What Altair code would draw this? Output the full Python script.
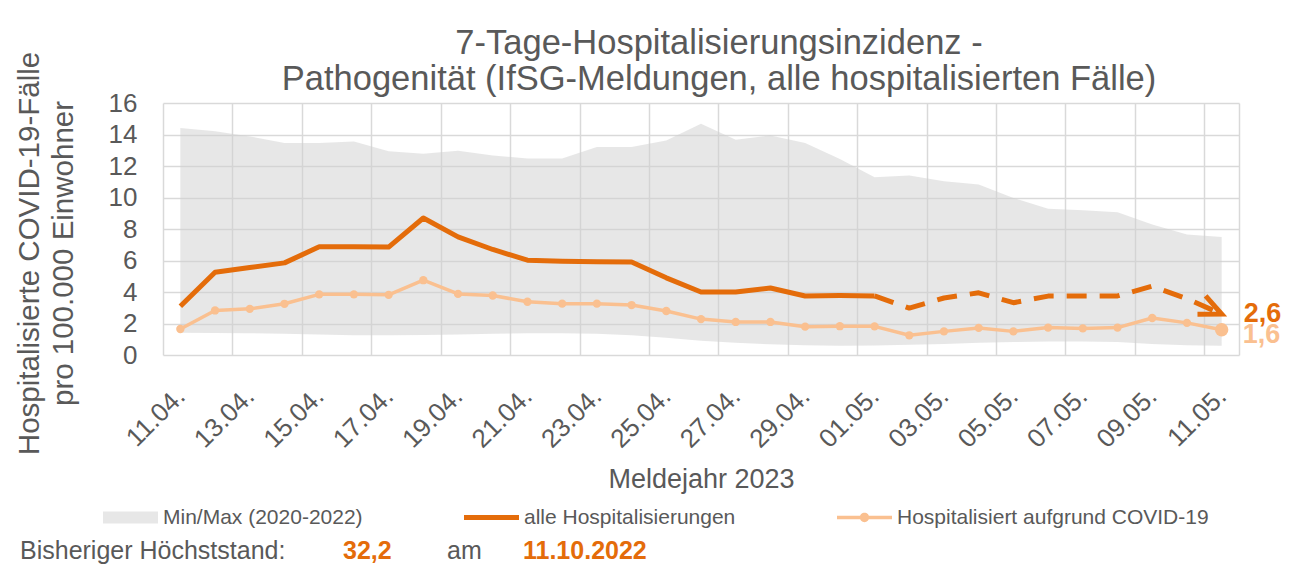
import json
import altair as alt
import pandas as pd

# ---------------- data ----------------
dates = ["11.04.", "12.04.", "13.04.", "14.04.", "15.04.", "16.04.", "17.04.", "18.04.", "19.04.", "20.04.",
         "21.04.", "22.04.", "23.04.", "24.04.", "25.04.", "26.04.", "27.04.", "28.04.", "29.04.", "30.04.",
         "01.05.", "02.05.", "03.05.", "04.05.", "05.05.", "06.05.", "07.05.", "08.05.", "09.05.", "10.05.",
         "11.05."]
band_min = [1.42, 1.40, 1.38, 1.35, 1.30, 1.25, 1.25, 1.27, 1.30, 1.35, 1.38, 1.38, 1.35, 1.25, 1.10, 0.90,
            0.78, 0.68, 0.62, 0.58, 0.60, 0.65, 0.70, 0.78, 0.82, 0.86, 0.86, 0.82, 0.70, 0.62, 0.58]
band_max = [14.41, 14.20, 13.88, 13.46, 13.46, 13.56, 12.93, 12.78, 12.97, 12.67, 12.47, 12.47, 13.20, 13.20,
            13.62, 14.68, 13.67, 13.94, 13.46, 12.45, 11.28, 11.39, 11.03, 10.82, 9.97, 9.28, 9.19, 9.06,
            8.28, 7.65, 7.50]
alle = [3.10, 5.25, 5.55, 5.85, 6.87, 6.87, 6.85, 8.70, 7.50, 6.70, 6.02, 5.95, 5.92, 5.90, 4.90, 4.00,
        4.00, 4.25, 3.75, 3.77, 3.75, 2.98, 3.62, 3.95, 3.32, 3.74, 3.74, 3.75, 4.37, 3.57, 2.60]
covid = [1.65, 2.83, 2.93, 3.25, 3.85, 3.85, 3.82, 4.75, 3.88, 3.78, 3.38, 3.26, 3.26, 3.17, 2.79, 2.28,
         2.10, 2.10, 1.80, 1.83, 1.82, 1.25, 1.50, 1.72, 1.50, 1.74, 1.69, 1.74, 2.35, 2.04, 1.60]
series_names = ["Min/Max (2020-2022)", "alle Hospitalisierungen", "Hospitalisiert aufgrund COVID-19"]
solid_until = 20  # last index drawn solid (01.05.)
y_ticks = [0, 2, 4, 6, 8, 10, 12, 14, 16]
note_texts = ["Bisheriger Höchststand:", "32,2", "am", "11.10.2022"]

title_lines = ["7-Tage-Hospitalisierungsinzidenz -",
               "Pathogenität (IfSG-Meldungen, alle hospitalisierten Fälle)"]
y_title = ["Hospitalisierte COVID-19-Fälle", "pro 100.000 Einwohner"]
x_title = "Meldejahr 2023"

# ---------------- styles ----------------
DARK = "#E46C0A"
LIGHT = "#FAC090"
BAND = "#E7E7E7"
TEXT = "#595959"
GRID = "#D9D9D9"
FONT = "Liberation Sans"
W, H = 1076, 252
STEP = W / len(dates)

df = pd.DataFrame({"idx": list(range(len(dates))), "date": dates, "lo": band_min, "hi": band_max,
                   "alle": alle, "covid": covid})
long_rows = []
for name, vals in zip(series_names, [band_max, alle, covid]):
    for i, v in enumerate(vals):
        long_rows.append({"idx": i, "series": name, "val": v})
long_df = pd.DataFrame(long_rows)
note_df = pd.DataFrame({"t": note_texts})

grid_vals = [i - 0.5 for i in range(0, len(dates), 2)] + [len(dates) - 0.5]
label_expr = json.dumps(dates) + "[round(datum.value + 0.5)] || ''"

x_axis = alt.Axis(values=grid_vals, labelExpr=label_expr, labelAngle=-45, labelAlign="right",
                  labelBaseline="middle", labelOffset=STEP / 2, labelPadding=37, labelOverlap=False,
                  labelFlush=False, labelBound=False, labelFontSize=26, ticks=False, domain=False,
                  grid=True, title=x_title, titleFontSize=27, titlePadding=14)
y_axis = alt.Axis(values=y_ticks, labelFontSize=26, labelPadding=26, ticks=False, domain=False,
                  grid=True, title=y_title, titleFontSize=29.5, titleLineHeight=34, titleAngle=-90,
                  titleAlign="center", titleBaseline="top", titleX=-148, titleY=150)

x_scale = alt.Scale(domain=[-0.5, len(dates) - 0.5], nice=False, zero=False)
y_scale = alt.Scale(domain=[0, 16], nice=False)


def X():
    return alt.X("idx:Q", scale=x_scale, axis=x_axis)


def Y(field):
    return alt.Y(field + ":Q", scale=y_scale, axis=y_axis)


base = alt.Chart(df)

band = base.mark_area(color="#CFCFCF", opacity=0.5).encode(x=X(), y=Y("lo"), y2="hi:Q")

alle_solid = base.transform_filter(f"datum.idx <= {solid_until}").mark_line(
    color=DARK, strokeWidth=5, strokeJoin="round").encode(x=X(), y=Y("alle"))
alle_dash = base.transform_filter(f"datum.idx >= {solid_until}").mark_line(
    color=DARK, strokeWidth=5, strokeDash=[20, 13], strokeJoin="round").encode(x=X(), y=Y("alle"))
arrow = base.transform_filter(f"datum.idx == {len(dates) - 1}").mark_point(
    shape="M-1.1,-0.5L0,0L-1.1,0.5", filled=False, color=DARK, strokeWidth=5, size=1600,
    angle=24, opacity=1, strokeJoin="miter").encode(x=X(), y=Y("alle"))

covid_line = base.mark_line(color=LIGHT, strokeWidth=3.5, strokeJoin="round").encode(x=X(), y=Y("covid"))
covid_pts = base.mark_circle(color=LIGHT, opacity=1).encode(
    x=X(), y=Y("covid"),
    size=alt.condition(f"datum.idx == {len(dates) - 1}", alt.value(180), alt.value(70)))

last = base.transform_filter(f"datum.idx == {len(dates) - 1}")
lab_alle = last.transform_calculate(lbl="replace(format(datum.alle, '.1f'), '.', ',')").mark_text(
    align="left", baseline="middle", dx=22, dy=0, fontSize=27, fontWeight="bold", color=DARK, font=FONT
).encode(x=X(), y=Y("alle"), text="lbl:N")
lab_covid = last.transform_calculate(lbl="replace(format(datum.covid, '.1f'), '.', ',')").mark_text(
    align="left", baseline="middle", dx=21, dy=5, fontSize=27, fontWeight="bold", color=LIGHT, font=FONT
).encode(x=X(), y=Y("covid"), text="lbl:N")

shape_paths = [
    "M-1,-0.22H1V0.22H-1Z",
    "M-1,-0.09H1V0.09H-1Z",
    "M-1,-0.06H1V0.06H-1Z M-0.17,0A0.17,0.17 0 1,1 0.17,0A0.17,0.17 0 1,1 -0.17,0Z",
]
leg = alt.Legend(title=None, orient="none", legendX=-60, legendY=387, direction="horizontal",
                 symbolSize=3025, symbolOpacity=1, symbolStrokeWidth=0, labelFontSize=21,
                 labelColor=TEXT, labelFont=FONT, labelLimit=600, labelOffset=5, columnPadding=101,
                 padding=0, gridAlign="none")
legend_layer = alt.Chart(long_df).mark_point(filled=True, opacity=0).encode(
    x=X(), y=Y("val"),
    color=alt.Color("series:N", scale=alt.Scale(domain=series_names, range=[BAND, DARK, LIGHT]), legend=leg,
                    sort=series_names),
    shape=alt.Shape("series:N", scale=alt.Scale(domain=series_names, range=shape_paths), legend=leg,
                    sort=series_names),
)

note_x = [-143, 180, 284, 360]
note_col = [TEXT, DARK, TEXT, DARK]
note_w = ["normal", "bold", "normal", "bold"]
notes = []
for i in range(len(note_texts)):
    notes.append(alt.Chart(note_df.iloc[[i]]).mark_text(
        align="left", baseline="middle", fontSize=25, font=FONT, color=note_col[i], fontWeight=note_w[i]
    ).encode(x=alt.value(note_x[i]), y=alt.value(448), text="t:N"))

chart = alt.layer(band, covid_line, covid_pts, alle_solid, alle_dash, arrow, lab_alle, lab_covid,
                  legend_layer, *notes).properties(
    width=W, height=H,
    autosize=alt.AutoSizeParams(type="none"),
    padding={"left": 155, "top": 95, "right": 59, "bottom": 209},
    title=alt.TitleParams(text=title_lines, fontSize=34.5, lineHeight=36, font=FONT, color=TEXT,
                          fontWeight="normal", anchor="middle", frame="group", dx=18, offset=-46),
).configure_view(stroke=None).configure_axis(
    labelFont=FONT, titleFont=FONT, labelColor=TEXT, titleColor=TEXT, titleFontWeight="normal",
    gridColor=GRID, gridWidth=1.5,
)

chart.save("out.html", embed_options={"renderer": "svg", "actions": False})
